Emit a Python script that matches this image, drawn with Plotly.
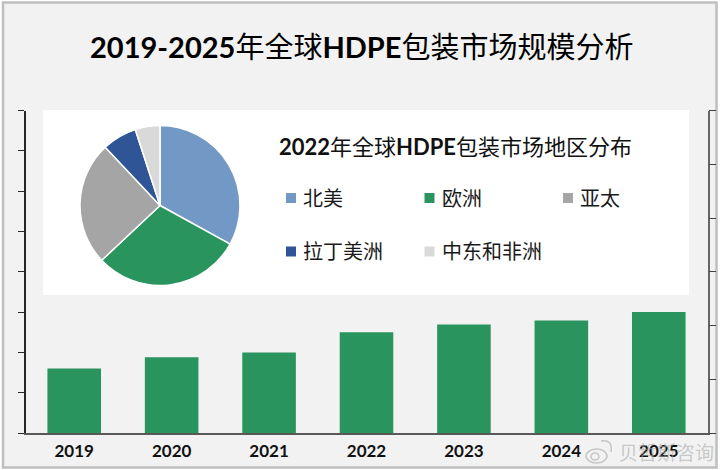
import plotly.graph_objects as go

W=720
H=470

years=["2019","2020","2021","2022","2023","2024","2025"]
market_size=[1.6,1.88,2.0,2.5,2.69,2.79,3.0]
regions=["北美","欧洲","亚太","拉丁美洲","中东和非洲"]
region_share=[33,30,25,7,5]

#color scheme:
green="#2a945e"
region_colors=["#7299c6",green,"#a5a5a5","#2f5597","#d9d9d9"]
bg="#f2f2f2"
mark="rgba(170,170,170,0.6)"
font_cn="Lato, 'Noto Sans CJK SC', sans-serif"

def px_x(x):
    return x/W
def px_y(y):
    return 1-y/H

def paper_rect(x0,x1,y0,y1,**kw):
    return dict(type="rect",xref="paper",yref="paper",layer="below",
                x0=px_x(x0),x1=px_x(x1),y0=px_y(y1),y1=px_y(y0),**kw)

fig=go.Figure()
fig.add_trace(
    go.Bar(x=years,y=market_size,
           marker=dict(color=green,line=dict(width=0)),
           width=0.55,
           showlegend=False,
           hoverinfo="skip"))
fig.add_trace(
    go.Pie(labels=regions,values=region_share,
           sort=False,direction="clockwise",rotation=0,
           marker=dict(colors=region_colors,line=dict(color="white",width=1.5)),
           textinfo="none",showlegend=False,
           domain=dict(x=[px_x(80),px_x(240)],y=[px_y(285.5),px_y(125.5)])))
fig.add_trace(go.Scatter(x=years,y=[None]*len(years),yaxis="y2",showlegend=False,hoverinfo="skip"))

shapes=[
    paper_rect(3,716.5,2.5,467.5,fillcolor=bg,line=dict(color="#bfbfbf",width=2.5)),
    paper_rect(43,689,110,295,fillcolor="white",line=dict(width=0)),
]
annotations=[
    dict(text="<b>2019-2025</b>年全球<b>HDPE</b>包装市场规模分析",
         xref="paper",yref="paper",x=px_x(361),y=px_y(47),
         xanchor="center",yanchor="middle",showarrow=False,
         font=dict(size=29,color="black")),
    dict(text="<b>2022</b>年全球<b>HDPE</b>包装市场地区分布",
         xref="paper",yref="paper",x=px_x(277),y=px_y(147),
         xanchor="left",yanchor="middle",showarrow=False,
         font=dict(size=22,color="#111111")),
]

# legend laid out by hand, plotly's horizontal one would not hold 3 columns here
for i,(name,col) in enumerate(zip(regions,region_colors)):
    lx=286+138.5*(i%3)
    ly=198+53.5*(i//3)
    shapes.append(paper_rect(lx,lx+10,ly-5,ly+5,fillcolor=col,line=dict(width=0)))
    annotations.append(
        dict(text=name,xref="paper",yref="paper",x=px_x(lx+15),y=px_y(ly),
             xanchor="left",yanchor="middle",showarrow=False,
             font=dict(size=20,color="#1a1a1a")))

# watermark
annotations.append(
    dict(text="贝哲斯咨询",
         xref="paper",yref="paper",x=px_x(617),y=px_y(452),
         xanchor="left",yanchor="middle",showarrow=False,
         font=dict(size=19,color=mark)))
for x0,x1,y0,y1 in [(586,607,449,463),(591,599,453,460)]:
    shapes.append(dict(type="circle",xref="paper",yref="paper",layer="above",
                       x0=px_x(x0),x1=px_x(x1),y0=px_y(y1),y1=px_y(y0),
                       line=dict(color=mark,width=1.5)))
shapes.append(dict(type="path",xref="paper",yref="paper",layer="above",
                   path=f"M {px_x(601)} {px_y(441)} Q {px_x(613)} {px_y(439)} {px_x(611)} {px_y(452)}",
                   line=dict(color=mark,width=1.5)))

fig.update_layout(
    width=W,height=H,
    margin=dict(l=0,r=0,t=0,b=0),
    paper_bgcolor="white",
    plot_bgcolor="rgba(0,0,0,0)",
    font=dict(family=font_cn,color="black"),
    showlegend=False,
    xaxis=dict(domain=[px_x(25.5),px_x(707.5)],
               type="category",range=[-0.5,6.5],
               showgrid=False,zeroline=False,
               showline=True,linecolor="#595959",linewidth=1.5,
               ticks="",ticklabelstandoff=2,
               tickfont=dict(size=17,color="#111111",family="Lato",weight="bold")),
    yaxis=dict(domain=[px_y(433),px_y(110.5)],
               range=[0,8],dtick=1,
               showgrid=False,zeroline=False,
               showline=True,linecolor="#262626",linewidth=1.5,
               ticks="outside",ticklen=6,tickcolor="#262626",tickwidth=1,
               showticklabels=False),
    yaxis2=dict(overlaying="y",side="right",anchor="x",
                range=[0,6],dtick=1,
                showgrid=False,zeroline=False,
                showline=True,linecolor="#666666",linewidth=1.5,
                ticks="outside",ticklen=7,tickcolor="#404040",tickwidth=1,
                showticklabels=False),
    shapes=shapes,
    annotations=annotations)

fig.write_html("out.html",config=dict(displayModeBar=False),
               post_script="document.body.style.margin='0';")
